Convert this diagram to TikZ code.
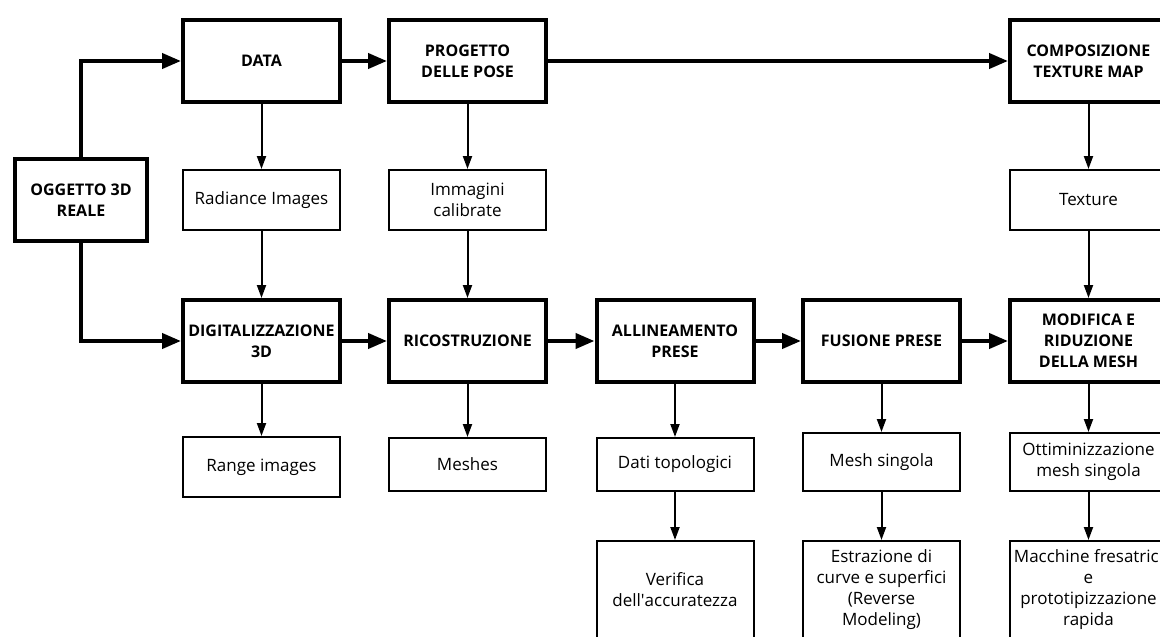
\documentclass[tikz,border=0pt]{standalone}
\usepackage{fontspec}
\setmainfont{Open Sans}
\usetikzlibrary{arrows.meta}

\begin{document}
\begin{tikzpicture}[x=1pt,y=-1pt,
  font=\fontsize{17}{21}\selectfont,
  stage/.style={draw, line width=4pt, minimum width=157pt, minimum height=82pt,
    inner sep=0pt, align=center, font=\fontsize{16}{21}\selectfont\bfseries},
  item/.style={draw, line width=2pt, minimum width=157pt, minimum height=60pt,
    inner sep=0pt, align=center},
  flow/.style={line width=4pt, -{Triangle[length=19pt,width=15pt]}},
  feed/.style={line width=2pt, -{Triangle[length=13pt,width=9pt]}},
]
\clip (0,0) rectangle (1160,637);

% starting object
\node[stage, minimum width=132pt] (obj) at (81,200) {OGGETTO 3D\\REALE};

% top row
\node[stage] (data) at (261.5,61) {DATA};
\node[stage] (pose) at (467.5,61) {PROGETTO\\DELLE POSE};
\node[stage] (tex)  at (1088.5,61) {COMPOSIZIONE\\TEXTURE MAP};

% intermediate products
\node[item] (rad) at (261.5,200) {Radiance Images};
\node[item] (cal) at (467.5,200) {Immagini\\calibrate};
\node[item] (txt) at (1088.5,200) {Texture};

% main pipeline
\node[stage] (dig) at (261.5,341) {DIGITALIZZAZIONE\\3D};
\node[stage] (ric) at (467.5,341) {RICOSTRUZIONE};
\node[stage] (all) at (675,341)   {ALLINEAMENTO\\PRESE};
\node[stage] (fus) at (881.5,341) {FUSIONE PRESE};
\node[stage] (mod) at (1088.5,341) {MODIFICA E\\RIDUZIONE\\DELLA MESH};

% outputs
\node[item] (rng) at (261.5,467) {Range images};
\node[item, minimum height=53pt] (msh) at (467.5,464.5) {Meshes};
\node[item, minimum height=53pt] (top) at (675,464.5) {Dati topologici};
\node[item, minimum height=58pt] (sgl) at (881.5,462) {Mesh singola};
\node[item, minimum height=58pt] (ott) at (1088.5,462) {Ottiminizzazione\\mesh singola};

% final uses
\node[item, minimum height=98pt] (ver) at (675,590) {Verifica\\dell\textquotesingle accuratezza};
\node[item, minimum height=98pt] (rev) at (881.5,590) {Estrazione di\\curve e superfici\\(Reverse\\Modeling)};
\node[item, minimum height=98pt] (mac) at (1088.5,590) {Macchine fresatrici\\e\\prototipizzazione\\rapida};

% main flow
\draw[flow] (obj.north) |- (data.west);
\draw[flow] (obj.south) |- (dig.west);
\draw[flow] (data) -- (pose);
\draw[flow] (pose) -- (tex);
\draw[flow] (dig) -- (ric);
\draw[flow] (ric) -- (all);
\draw[flow] (all) -- (fus);
\draw[flow] (fus) -- (mod);

% vertical links
\draw[feed] (data) -- (rad);
\draw[feed] (rad) -- (dig);
\draw[feed] (pose) -- (cal);
\draw[feed] (cal) -- (ric);
\draw[feed] (tex) -- (txt);
\draw[feed] (txt) -- (mod);
\draw[feed] (dig) -- (rng);
\draw[feed] (ric) -- (msh);
\draw[feed] (all) -- (top);
\draw[feed] (top) -- (ver);
\draw[feed] (fus) -- (sgl);
\draw[feed] (sgl) -- (rev);
\draw[feed] (mod) -- (ott);
\draw[feed] (ott) -- (mac);
\end{tikzpicture}
\end{document}
